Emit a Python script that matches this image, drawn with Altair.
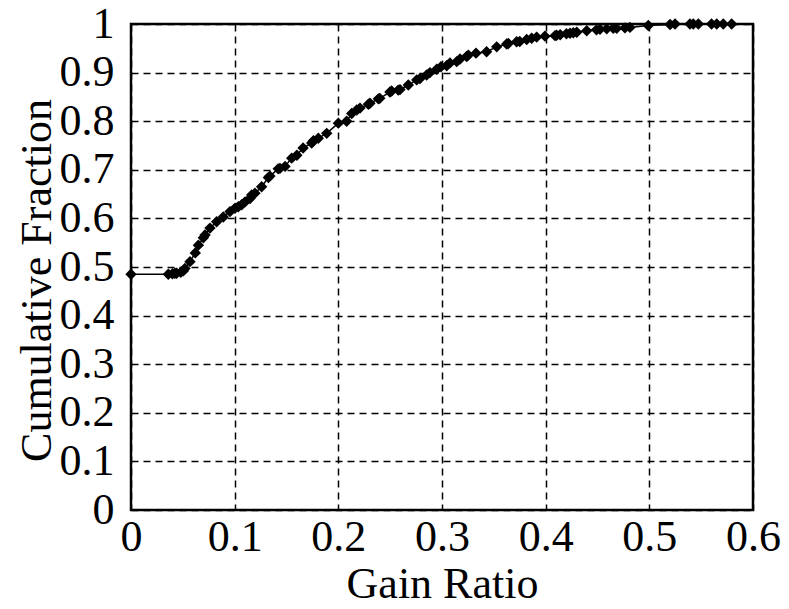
import altair as alt
import pandas as pd

# Gain ratio values (x) and the cumulative fraction reached at each (y)
gain_ratio = [
    0.0, 0.036, 0.040, 0.0424, 0.044, 0.048, 0.0505, 0.052, 0.0569, 0.062,
    0.065, 0.0698, 0.0714, 0.0762, 0.0826, 0.089, 0.0955, 0.1003, 0.1035, 0.1068,
    0.110, 0.1148, 0.1164, 0.1196, 0.126, 0.1325, 0.134, 0.142, 0.1437, 0.1486,
    0.155, 0.160, 0.166, 0.1743, 0.176, 0.1807, 0.1888, 0.200, 0.208, 0.2129,
    0.2177, 0.2209, 0.229, 0.2305, 0.2386, 0.240, 0.2498, 0.2514, 0.2578, 0.2595,
    0.2675, 0.2756, 0.2788, 0.2852, 0.2884, 0.2949, 0.299, 0.3045, 0.3077, 0.3142,
    0.3174, 0.3238, 0.3254, 0.3328, 0.343, 0.3528, 0.3624, 0.364, 0.372, 0.375,
    0.3817, 0.3865, 0.3913, 0.3993, 0.409, 0.4106, 0.414, 0.420, 0.4235, 0.4267,
    0.430, 0.4396, 0.449, 0.4524, 0.4589, 0.4652, 0.4685, 0.4765, 0.4813, 0.499,
    0.520, 0.5248, 0.5392, 0.5424, 0.5473, 0.560, 0.565, 0.5713, 0.5794,
]
cum_fraction = [
    0.485, 0.485, 0.486, 0.487, 0.487, 0.489, 0.492, 0.497, 0.511, 0.529,
    0.545, 0.560, 0.566, 0.580, 0.593, 0.603, 0.614, 0.621, 0.624, 0.628,
    0.634, 0.641, 0.648, 0.652, 0.665, 0.684, 0.687, 0.702, 0.703, 0.707,
    0.724, 0.730, 0.745, 0.755, 0.760, 0.765, 0.775, 0.796, 0.800, 0.816,
    0.823, 0.827, 0.835, 0.837, 0.846, 0.847, 0.860, 0.862, 0.864, 0.865,
    0.8745, 0.885, 0.888, 0.895, 0.900, 0.907, 0.912, 0.914, 0.920, 0.9225,
    0.928, 0.933, 0.936, 0.940, 0.943, 0.953, 0.9588, 0.960, 0.9636, 0.964,
    0.968, 0.9706, 0.973, 0.975, 0.976, 0.977, 0.978, 0.980, 0.981, 0.982,
    0.983, 0.986, 0.988, 0.989, 0.990, 0.991, 0.991, 0.992, 0.993, 0.997,
    0.999, 1.0, 1.0, 1.0, 1.0, 1.0, 1.0, 1.0, 1.0,
]
assert len(gain_ratio) == len(cum_fraction)

x_ticks = [0, 0.1, 0.2, 0.3, 0.4, 0.5, 0.6]
y_ticks = [0, 0.1, 0.2, 0.3, 0.4, 0.5, 0.6, 0.7, 0.8, 0.9, 1.0]

df = pd.DataFrame({"gain": gain_ratio, "frac": cum_fraction})

FONT = "Liberation Serif"
grid_style = dict(
    grid=True,
    gridColor="black",
    gridDash=[7, 5],
    gridWidth=1.5,
    gridOpacity=1,
    domain=False,
    ticks=False,
    format="~g",
    labelFontSize=44,
    labelFont=FONT,
    labelColor="black",
    labelFlush=False,
    labelOverlap=False,
    titleFont=FONT,
    titleFontSize=44,
    titleFontWeight="normal",
    titleColor="black",
)

x_enc = alt.X(
    "gain:Q",
    scale=alt.Scale(domain=[0, 0.6], nice=False, zero=False),
    axis=alt.Axis(
        title="Gain Ratio",
        values=x_ticks,
        labelPadding=5,
        titlePadding=3,
        **grid_style,
    ),
)
y_enc = alt.Y(
    "frac:Q",
    scale=alt.Scale(domain=[0, 1], nice=False, zero=False),
    axis=alt.Axis(
        title="Cumulative Fraction",
        values=y_ticks,
        labelPadding=17,
        titlePadding=0,
        titleY=256,
        **grid_style,
    ),
)

line = alt.Chart(df).mark_line(color="black", strokeWidth=1.5).encode(
    x=x_enc, y=y_enc, order="gain:Q"
)
points = alt.Chart(df).mark_point(
    shape="diamond", filled=True, color="black", size=130, opacity=1
).encode(x="gain:Q", y="frac:Q")

chart = (
    alt.layer(line, points)
    .properties(
        width=622,
        height=486,
        autosize=alt.AutoSizeParams(type="none"),
        padding={"left": 131, "top": 24, "right": 36, "bottom": 99},
        background="white",
    )
    .configure_view(stroke="black", strokeWidth=2.5)
)

chart.save("out.html", embed_options={"renderer": "svg", "actions": False})
